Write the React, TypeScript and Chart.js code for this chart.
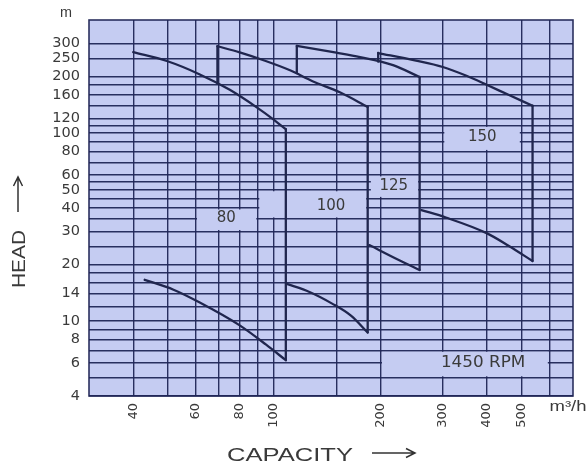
import React, { useEffect, useRef } from 'react';
import { Chart, registerables } from 'chart.js';

Chart.register(...registerables);

// ---- axes ----
const xGridValues = [40, 50, 60, 70, 80, 90, 100, 150, 200, 300, 400, 500, 600];
const xTickLabels = [40, 60, 80, 100, 200, 300, 400, 500];
const yGridValues = [300, 250, 200, 180, 160, 140, 120, 110, 100, 90, 80, 70, 60, 55, 50, 45, 40, 35, 30, 25, 20, 18, 16, 14, 12, 10, 9, 8, 7, 6, 5, 4];
const yTickLabels = [300, 250, 200, 160, 120, 100, 80, 60, 50, 40, 30, 20, 14, 10, 8, 6, 4];
const xRange = [30, 700];
const yRange = [4, 400];

// ---- pump curves: [capacity m3/h, head m] ----
const pump80Top = [[40, 270], [49.8, 242], [61.5, 206], [75, 170], [90, 136], [98.7, 120], [108, 105]];
const pump80Bottom = [[43.1, 16.6], [52, 14.7], [61.5, 12.6], [80, 9.5], [95, 7.5], [108, 6.2]];

const pump100Left = [[69.2, 184], [69.2, 290]];
const pump100Top = [[69.2, 290], [80, 269], [93, 245], [111, 216], [128.5, 189], [153.5, 165], [184, 138]];
const pump100Bottom = [[108.6, 15.8], [126, 14.3], [146, 12.4], [165, 10.7], [184, 8.7]];

const pump125Left = [[116, 209], [116, 291]];
const pump125Top = [[116, 291], [150, 268], [175, 254], [217, 230], [258, 199]];
const pump125Bottom = [[186, 25.4], [226, 21.1], [258, 18.7]];

const pump150Left = [[197, 240], [197, 267]];
const pump150Top = [[197, 267], [250, 244], [300, 225], [350, 202], [399, 181], [460, 160], [538, 140]];
const pump150Bottom = [[261, 39], [306, 35.6], [399, 29.4], [460, 25.2], [538, 20.9]];

// ---- curve labels ----
const labelTexts = ['80', '100', '125', '150', '1450 RPM'];
const labelBoxFlow = [[60, 90], [90, 184], [186, 258], [300, 500], [200, 600]];
const labelBoxHead = [[30, 40], [35, 50], [45, 60], [80, 110], [5, 7]];
const labelAt = [[73.3, 35.2], [145, 41], [218, 52.3], [388, 95], [390, 6]];

const BG = '#c5ccf2';
const GRID = 'rgba(32,38,86,0.95)';
const CURVE = '#20264e';
const TEXT = '#3a3a3a';

function drawScaledText(ctx: CanvasRenderingContext2D, text: string, cx: number, cy: number, font: string, targetWidth: number, rotate = 0) {
  ctx.save();
  ctx.font = font;
  ctx.fillStyle = TEXT;
  ctx.textAlign = 'center';
  ctx.textBaseline = 'middle';
  const w = ctx.measureText(text).width;
  const sx = targetWidth > 0 ? targetWidth / w : 1;
  ctx.translate(cx, cy);
  if (rotate) ctx.rotate(rotate);
  ctx.scale(sx, 1);
  ctx.fillText(text, 0, 0);
  ctx.restore();
}

const decorPlugin = {
  id: 'decor',
  beforeDraw(chart: any) {
    const { ctx, chartArea: a } = chart;
    ctx.save();
    ctx.fillStyle = BG;
    ctx.fillRect(a.left, a.top, a.right - a.left, a.bottom - a.top);
    ctx.restore();
  },
  beforeDatasetsDraw(chart: any) {
    const { ctx } = chart;
    const xs = chart.scales.x;
    const ys = chart.scales.y;
    labelTexts.forEach((t, i) => {
      const x0 = xs.getPixelForValue(labelBoxFlow[i][0]) + 1.5;
      const x1 = xs.getPixelForValue(labelBoxFlow[i][1]) - 1.5;
      const y0 = ys.getPixelForValue(labelBoxHead[i][1]) + 1.5;
      const y1 = ys.getPixelForValue(labelBoxHead[i][0]) - 1.5;
      ctx.save();
      ctx.fillStyle = BG;
      ctx.fillRect(x0, y0, x1 - x0, y1 - y0);
      ctx.restore();
      const cx = xs.getPixelForValue(labelAt[i][0]);
      const cy = ys.getPixelForValue(labelAt[i][1]);
      ctx.save();
      ctx.font = '15px "DejaVu Sans"';
      ctx.fillStyle = TEXT;
      ctx.textAlign = 'center';
      ctx.textBaseline = 'middle';
      ctx.translate(cx, cy);
      if (t.length > 4) ctx.scale(1.12, 1);
      ctx.fillText(t, 0, 0);
      ctx.restore();
    });
  },
  afterDraw(chart: any) {
    const { ctx, chartArea: a } = chart;
    ctx.save();
    ctx.strokeStyle = GRID;
    ctx.lineWidth = 1.6;
    ctx.strokeRect(a.left, a.top, a.right - a.left, a.bottom - a.top);
    ctx.restore();

    // unit labels
    drawScaledText(ctx, 'm', 66, 13, '15px "Liberation Sans"', 12);
    drawScaledText(ctx, 'm³/h', 568, 407, '14px "Liberation Sans"', 37);

    // axis titles
    drawScaledText(ctx, 'CAPACITY', 290, 456, '18.5px "Liberation Sans"', 126);
    drawScaledText(ctx, 'HEAD', 20, 259, '18.5px "Liberation Sans"', 58, -Math.PI / 2);

    // arrows
    ctx.save();
    ctx.strokeStyle = '#333';
    ctx.lineWidth = 1.5;
    ctx.beginPath();
    ctx.moveTo(372, 453);
    ctx.lineTo(415, 453);
    ctx.moveTo(406, 448.5);
    ctx.lineTo(415, 453);
    ctx.lineTo(406, 457.5);
    ctx.moveTo(18, 212);
    ctx.lineTo(18, 177);
    ctx.moveTo(13.5, 186);
    ctx.lineTo(18, 177);
    ctx.lineTo(22.5, 186);
    ctx.stroke();
    ctx.restore();
  },
};

export default function App() {
  const ref = useRef<HTMLCanvasElement>(null);
  useEffect(() => {
    const canvas = ref.current;
    if (!canvas) return;
    const pts = (arr: number[][]) => arr.map(([x, y]) => ({ x, y }));
    const ds = (arr: number[][], smooth: boolean) => ({
      data: pts(arr),
      borderColor: CURVE,
      backgroundColor: CURVE,
      borderWidth: 2.3,
      pointRadius: 0,
      showLine: true,
      fill: false,
      tension: smooth ? 0.4 : 0,
      cubicInterpolationMode: smooth ? 'monotone' : 'default',
      borderCapStyle: 'round',
      borderJoinStyle: 'round',
    });
    const tops = [pump80Top, pump100Top, pump125Top, pump150Top];
    const bottoms = [pump80Bottom, pump100Bottom, pump125Bottom, pump150Bottom];
    const rightEdges = tops.map((t, i) => [t[t.length - 1], bottoms[i][bottoms[i].length - 1]]);
    const lefts = [pump100Left, pump125Left, pump150Left];
    const datasets = [
      ...tops.map((a) => ds(a, true)),
      ...bottoms.map((a) => ds(a, true)),
      ...rightEdges.map((a) => ds(a, false)),
      ...lefts.map((a) => ds(a, false)),
    ];

    const chart = new Chart(canvas, {
      type: 'scatter',
      data: { datasets },
      plugins: [decorPlugin],
      options: {
        animation: false,
        responsive: false,
        devicePixelRatio: 1,
        layout: { padding: { left: 0, right: 15, top: 20, bottom: 0 } },
        plugins: { legend: { display: false }, tooltip: { enabled: false } },
        scales: {
          x: {
            type: 'logarithmic',
            min: xRange[0],
            max: xRange[1],
            afterBuildTicks: (s: any) => {
              s.ticks = xGridValues.map((v) => ({ value: v }));
            },
            afterFit: (s: any) => {
              s.height = 73;
            },
            ticks: {
              autoSkip: false,
              minRotation: 90,
              maxRotation: 90,
              padding: 7,
              color: TEXT,
              font: { family: '"DejaVu Sans"', size: 13 },
              callback: (v: any) => (xTickLabels.includes(Number(v)) ? String(v) : ''),
            },
            grid: { color: GRID, lineWidth: 1.4, drawTicks: false },
            border: { display: false },
          },
          y: {
            type: 'logarithmic',
            min: yRange[0],
            max: yRange[1],
            afterBuildTicks: (s: any) => {
              s.ticks = yGridValues.map((v) => ({ value: v }));
            },
            afterFit: (s: any) => {
              s.width = 89;
            },
            ticks: {
              autoSkip: false,
              padding: 9,
              color: TEXT,
              font: { family: '"DejaVu Sans"', size: 14.5 },
              callback: (v: any) => (yTickLabels.includes(Number(v)) ? String(v) : ''),
            },
            grid: { color: GRID, lineWidth: 1.4, drawTicks: false },
            border: { display: false },
          },
        },
      },
    } as any);
    return () => chart.destroy();
  }, []);

  return (
    <canvas
      ref={ref}
      width={588}
      height={469}
      style={{ position: 'absolute', left: 0, top: 0, display: 'block', background: '#ffffff' }}
    />
  );
}
